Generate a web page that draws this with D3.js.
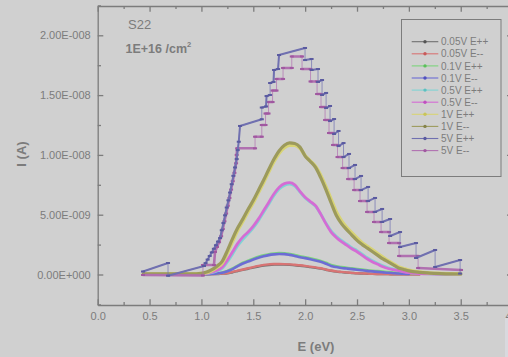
<!DOCTYPE html>
<html>
<head>
<meta charset="utf-8">
<script src="https://cdn.jsdelivr.net/npm/d3@7"></script>
<style>
  html, body { margin: 0; padding: 0; background: #d0d0d0; }
  svg { display: block; font-family: "Liberation Sans", Arial, sans-serif; }
</style>
</head>
<body>
<svg id="chart" width="508" height="357"></svg>
<script>
// ---- data (current in nA, energy in eV) ----
const seriesNames = ["0.05V E++", "0.05V E--", "0.1V E++", "0.1V E--", "0.5V E++",
                     "0.5V E--", "1V E++", "1V E--", "5V E++", "5V E--"];
const seriesColors = ["#707070", "#d87474", "#7cd47c", "#6c6cd4", "#80d4d4",
                      "#d46cd4", "#d8d474", "#9c9a5c", "#7070b0", "#b070b0"];
const markerColors = ["#555555", "#c85a5a", "#5ac05a", "#5050c0", "#5cc0c0",
                      "#c050c0", "#c8c45a", "#85834a", "#5a5aa0", "#a058a0"];

const xTickLabels = ["0.0", "0.5", "1.0", "1.5", "2.0", "2.5", "3.0", "3.5", "4.0"];
const yTickValues = [0, 5, 10, 15, 20];
const yTickLabels = ["0.00E+000", "5.00E-009", "1.00E-008", "1.50E-008", "2.00E-008"];

// shared energy grid for the smooth sweeps
const energyGrid = [0.44, 0.7, 0.9, 1.0,
  1.05, 1.10, 1.15, 1.20, 1.25, 1.30, 1.35, 1.40, 1.45, 1.50,
  1.55, 1.60, 1.65, 1.70, 1.75, 1.80, 1.85, 1.90, 1.95, 2.00,
  2.05, 2.10, 2.15, 2.20, 2.25, 2.30, 2.35, 2.40, 2.45, 2.50,
  2.55, 2.60, 2.65, 2.70, 2.75, 2.80, 2.85, 2.90, 2.95, 3.00,
  3.1, 3.2, 3.3, 3.4, 3.5];

const i005Epp = [0.01, 0.01, 0.01, 0.01,
  0.02, 0.03, 0.04, 0.07, 0.10, 0.19, 0.29, 0.39, 0.48, 0.58,
  0.67, 0.75, 0.80, 0.83, 0.84, 0.83, 0.81, 0.77, 0.73, 0.68,
  0.62, 0.56, 0.49, 0.40, 0.31, 0.24, 0.20, 0.16, 0.13, 0.10,
  0.08, 0.06, 0.05, 0.04, 0.03, 0.03, 0.02, 0.02, 0.02, 0.02,
  0.01, null, null, null, null];
const i005Emm = [0.01, 0.01, 0.01, 0.01,
  0.02, 0.03, 0.05, 0.08, 0.12, 0.22, 0.32, 0.42, 0.52, 0.62,
  0.72, 0.80, 0.85, 0.88, 0.88, 0.87, 0.85, 0.81, 0.77, 0.72,
  0.66, 0.60, 0.52, 0.42, 0.33, 0.26, 0.22, 0.18, 0.14, 0.11,
  0.09, 0.07, 0.05, 0.04, 0.03, 0.03, 0.02, 0.02, 0.02, 0.02,
  0.01, null, null, null, null];
const i01Epp = [0.03, 0.03, 0.03, 0.03,
  0.04, 0.06, 0.10, 0.17, 0.30, 0.50, 0.75, 0.98, 1.15, 1.32,
  1.48, 1.60, 1.70, 1.76, 1.79, 1.78, 1.72, 1.63, 1.53, 1.45,
  1.36, 1.26, 1.14, 0.98, 0.80, 0.69, 0.62, 0.56, 0.51, 0.46,
  0.41, 0.36, 0.32, 0.28, 0.24, 0.20, 0.17, 0.14, 0.12, 0.10,
  0.08, 0.07, 0.06, 0.05, 0.05];
const i01Emm = [0.02, 0.02, 0.02, 0.02,
  0.03, 0.05, 0.09, 0.15, 0.28, 0.45, 0.70, 0.92, 1.08, 1.25,
  1.40, 1.52, 1.62, 1.68, 1.71, 1.70, 1.64, 1.55, 1.45, 1.37,
  1.28, 1.18, 1.06, 0.90, 0.72, 0.62, 0.55, 0.50, 0.45, 0.40,
  0.35, 0.30, 0.26, 0.22, 0.18, 0.14, 0.11, 0.08, 0.06, 0.04,
  null, null, null, null, null];
const i05Epp = [0.03, 0.03, 0.03, 0.04,
  0.08, 0.16, 0.30, 0.50, 1.05, 1.70, 2.40, 2.95, 3.40, 3.90,
  4.50, 5.20, 5.90, 6.60, 7.15, 7.45, 7.55, 7.40, 6.90, 6.40,
  6.05, 5.70, 5.05, 4.30, 3.65, 3.20, 2.85, 2.55, 2.25, 2.00,
  1.70, 1.40, 1.15, 0.92, 0.72, 0.56, 0.45, 0.36, 0.26, 0.18,
  0.10, 0.06, 0.04, 0.03, 0.03];
const i05Emm = [0.03, 0.03, 0.03, 0.05,
  0.10, 0.20, 0.35, 0.60, 1.20, 1.90, 2.60, 3.15, 3.55, 4.05,
  4.65, 5.35, 6.05, 6.75, 7.30, 7.60, 7.68, 7.50, 6.95, 6.45,
  6.10, 5.75, 5.05, 4.25, 3.55, 3.10, 2.75, 2.45, 2.15, 1.90,
  1.60, 1.30, 1.05, 0.85, 0.65, 0.50, 0.40, 0.32, 0.22, 0.15,
  0.08, 0.05, 0.04, 0.03, 0.03];
const i1Epp = [0.05, 0.05, 0.05, 0.08,
  0.15, 0.32, 0.60, 0.95, 1.80, 2.75, 3.70, 4.45, 5.25, 6.00,
  6.85, 7.70, 8.60, 9.45, 10.15, 10.60, 10.80, 10.80, 10.55, 9.95,
  9.50, 9.05, 8.30, 7.35, 6.30, 5.25, 4.50, 3.95, 3.50, 3.05,
  2.65, 2.35, 2.05, 1.75, 1.45, 1.15, 0.90, 0.65, 0.50, 0.36,
  0.22, 0.14, 0.10, 0.07, 0.05];
const i1Emm = [0.05, 0.05, 0.05, 0.10,
  0.20, 0.40, 0.70, 1.10, 2.00, 3.00, 3.90, 4.65, 5.45, 6.20,
  7.05, 7.90, 8.80, 9.65, 10.35, 10.80, 11.00, 10.95, 10.65, 9.90,
  9.45, 8.95, 8.10, 7.10, 6.00, 4.95, 4.25, 3.75, 3.30, 2.85,
  2.50, 2.20, 1.90, 1.60, 1.30, 1.05, 0.80, 0.55, 0.42, 0.30,
  0.18, 0.12, 0.08, 0.05, 0.04];

// 5V sweeps: stepped readings, listed in acquisition order
const e5Epp = [0.437, 0.678, 0.678, 1.025,
  1.04, 1.06, 1.08, 1.10, 1.12, 1.14, 1.16, 1.18, 1.196, 1.212,
  1.228, 1.244, 1.26, 1.276, 1.292, 1.308, 1.324, 1.34, 1.35, 1.36,
  1.372, 1.582, 1.582, 1.623, 1.628, 1.662, 1.662, 1.695, 1.700, 1.739,
  1.748, 1.999, 1.999, 2.062, 2.062, 2.124, 2.124, 2.163, 2.163, 2.202,
  2.202, 2.240, 2.240, 2.279, 2.279, 2.322, 2.322, 2.370, 2.370, 2.423,
  2.423, 2.481, 2.481, 2.539, 2.539, 2.607, 2.607, 2.674, 2.674, 2.742,
  2.742, 2.819, 2.819, 2.915, 2.915, 3.069, 3.069, 3.253, 3.253, 3.494,
  3.494];
const i5Epp = [0.25, 0.96, -0.10, 0.71,
  0.95, 1.25, 1.55, 1.85, 2.15, 2.45, 2.75, 3.05, 3.70, 4.30,
  4.95, 5.60, 6.20, 6.85, 7.55, 8.25, 8.95, 9.65, 10.40, 11.10,
  12.42, 12.98, 13.96, 14.05, 14.92, 15.01, 16.01, 16.10, 17.10, 17.18,
  18.35, 18.94, 17.93, 18.02, 17.10, 17.18, 16.10, 16.26, 15.01, 15.18,
  13.92, 14.09, 12.83, 13.00, 11.75, 12.00, 10.74, 10.99, 9.82, 10.08,
  8.90, 9.16, 7.98, 8.24, 7.06, 7.32, 6.14, 6.40, 5.23, 5.48,
  4.39, 4.64, 3.22, 3.55, 2.30, 2.63, 1.38, 2.05, 0.63, 1.21,
  0.08];
const e5Emm = [0.437, 1.015, 1.015, 1.121, 1.131,
  1.15, 1.17, 1.19, 1.206, 1.222, 1.238, 1.254, 1.27, 1.286, 1.302,
  1.318, 1.334, 1.34, 1.345,
  1.517, 1.517, 1.582, 1.582, 1.618, 1.618, 1.647, 1.647, 1.686, 1.686,
  1.724, 1.724, 1.787, 1.787, 1.871, 1.871, 1.970, 1.970, 2.052, 2.052,
  2.115, 2.115, 2.153, 2.153, 2.192, 2.192, 2.230, 2.230, 2.269, 2.269,
  2.312, 2.312, 2.361, 2.361, 2.414, 2.414, 2.472, 2.472, 2.529, 2.529,
  2.597, 2.597, 2.664, 2.664, 2.732, 2.732, 2.809, 2.809, 2.906, 2.906,
  3.089, 3.089, 3.503];
const i5Emm = [-0.04, -0.08, 0.79, 0.79, 1.88,
  2.30, 2.70, 3.20, 3.80, 4.45, 5.10, 5.75, 6.40, 7.10, 7.80,
  8.50, 9.30, 10.00, 10.55,
  10.55, 11.52, 11.52, 12.50, 12.50, 13.46, 13.46, 14.42, 14.42, 15.38,
  15.38, 16.35, 16.35, 17.27, 17.27, 18.23, 18.23, 17.18, 17.18, 16.14,
  16.14, 15.09, 15.09, 14.00, 14.00, 12.92, 12.92, 11.83, 11.83, 10.83,
  10.83, 9.82, 9.82, 8.90, 8.90, 7.98, 7.98, 7.06, 7.06, 6.14,
  6.14, 5.23, 5.23, 4.39, 4.39, 3.55, 3.55, 2.63, 2.63, 1.55,
  1.55, 0.54, 0.38];

// ---- drawing ----
const svg = d3.select("#chart");
const axisColor = "#7c7c7c";
const textColor = "#7c7c7c";

const x = d3.scaleLinear().domain([0, 4]).range([97.7, 512.6]);
const y = d3.scaleLinear().domain([-2.55, 22.45]).range([305, 6]);

const zip = (es, vs) => es.map((e, i) => ({ e, v: vs[i] }));
const smoothSets = [i005Epp, i005Emm, i01Epp, i01Emm, i05Epp, i05Emm, i1Epp, i1Emm];
const smoothWidths = [2.4, 2.4, 2.6, 2.6, 2.8, 2.8, 3.4, 3.2];

// edge of the neighbouring panel at the lower right
svg.append("rect").attr("x", 505).attr("y", 318).attr("width", 3).attr("height", 39)
  .attr("fill", "#d9d9de");

const plot = svg.append("g");
const line = d3.line()
  .defined(d => d.v !== null)
  .x(d => x(d.e)).y(d => y(d.v))
  .curve(d3.curveMonotoneX);

smoothSets.forEach((vals, k) => {
  plot.append("path")
    .datum(zip(energyGrid, vals))
    .attr("fill", "none")
    .attr("stroke", seriesColors[k])
    .attr("stroke-width", smoothWidths[k])
    .attr("stroke-linejoin", "round")
    .attr("stroke-linecap", "round")
    .attr("d", line);
});

// stepped 5V sweeps: thin risers, thicker plateaus and ramps, small markers
const straight = d3.line().x(d => x(d.e)).y(d => y(d.v));
function drawSteps(pts, k, plateauWidth) {
  const g = plot.append("g");
  g.append("path").datum(pts)
    .attr("fill", "none").attr("stroke", seriesColors[k])
    .attr("stroke-opacity", 0.7).attr("stroke-width", 1).attr("d", straight);
  for (let i = 1; i < pts.length; i++) {
    if (pts[i].e === pts[i - 1].e) continue;
    g.append("line")
      .attr("x1", x(pts[i - 1].e)).attr("y1", y(pts[i - 1].v))
      .attr("x2", x(pts[i].e)).attr("y2", y(pts[i].v))
      .attr("stroke", seriesColors[k]).attr("stroke-width", plateauWidth)
      .attr("stroke-linecap", "round");
  }
  g.selectAll("rect.mk").data(pts).join("rect")
    .attr("x", d => x(d.e) - 2).attr("y", d => y(d.v) - 1)
    .attr("width", 4).attr("height", 2)
    .attr("fill", markerColors[k]);
}
drawSteps(zip(e5Emm, i5Emm), 9, 2.6);
drawSteps(zip(e5Epp, i5Epp), 8, 2.0);

// ---- axes (frame with inward ticks) ----
const yMinor = [-2.5, 2.5, 7.5, 12.5, 17.5, 22.5];
const xMajor = d3.range(0, 4.01, 0.5);
const xMinor = d3.range(0.25, 4, 0.5);

function styleAxis(g) {
  g.selectAll("path, line").attr("stroke", axisColor).attr("stroke-width", 1.3);
  g.selectAll("text").attr("fill", textColor).style("font-size", "11px")
    .style("font-family", "'Liberation Sans', Arial, sans-serif");
}

svg.append("g").attr("transform", "translate(97.7,0)")
  .call(d3.axisLeft(y).tickValues(yTickValues).tickSizeInner(-5.6).tickSizeOuter(0)
    .tickPadding(7).tickFormat((d, i) => yTickLabels[i]))
  .call(styleAxis);
svg.append("g").attr("transform", "translate(97.7,0)")
  .call(d3.axisLeft(y).tickValues(yMinor).tickSizeInner(-3.3).tickSizeOuter(0).tickFormat(""))
  .call(styleAxis).select(".domain").remove();

svg.append("g").attr("transform", "translate(512.6,0)")
  .call(d3.axisRight(y).tickValues(yTickValues).tickSizeInner(-5.6).tickSizeOuter(0).tickFormat(""))
  .call(styleAxis);
svg.append("g").attr("transform", "translate(512.6,0)")
  .call(d3.axisRight(y).tickValues(yMinor).tickSizeInner(-3.3).tickSizeOuter(0).tickFormat(""))
  .call(styleAxis).select(".domain").remove();

svg.append("g").attr("transform", "translate(0,305)")
  .call(d3.axisBottom(x).tickValues(xMajor).tickSizeInner(-5.7).tickSizeOuter(0)
    .tickPadding(7.5).tickFormat((d, i) => xTickLabels[i]))
  .call(styleAxis);
svg.append("g").attr("transform", "translate(0,305)")
  .call(d3.axisBottom(x).tickValues(xMinor).tickSizeInner(-3).tickSizeOuter(0).tickFormat(""))
  .call(styleAxis).select(".domain").remove();

svg.append("g").attr("transform", "translate(0,6)")
  .call(d3.axisTop(x).tickValues(xMajor).tickSizeInner(-5.7).tickSizeOuter(0).tickFormat(""))
  .call(styleAxis);
svg.append("g").attr("transform", "translate(0,6)")
  .call(d3.axisTop(x).tickValues(xMinor).tickSizeInner(-3).tickSizeOuter(0).tickFormat(""))
  .call(styleAxis).select(".domain").remove();

// ---- titles and annotations ----
svg.append("text").attr("x", 316).attr("y", 351).attr("text-anchor", "middle")
  .attr("fill", textColor).style("font-size", "13px").style("font-weight", "bold")
  .text("E (eV)");
svg.append("text").attr("transform", "translate(26,154) rotate(-90)")
  .attr("text-anchor", "middle").attr("fill", textColor)
  .style("font-size", "13px").style("font-weight", "bold").text("I (A)");

svg.append("text").attr("x", 128).attr("y", 29).attr("fill", textColor)
  .style("font-size", "13px").text("S22");
const dose = svg.append("text").attr("x", 125.5).attr("y", 53).attr("fill", textColor)
  .style("font-size", "12.5px").style("font-weight", "bold");
dose.append("tspan").text("1E+16 /cm");
dose.append("tspan").attr("dy", -6).style("font-size", "7.5px").text("2");

// ---- legend ----
const legend = svg.append("g");
legend.append("rect").attr("x", 401.5).attr("y", 19.5).attr("width", 99.5).attr("height", 157)
  .attr("fill", "none").attr("stroke", axisColor).attr("stroke-width", 1);
seriesNames.forEach((name, k) => {
  const cy = 41.7 + k * 12.1;
  legend.append("line").attr("x1", 411.7).attr("x2", 438.3).attr("y1", cy).attr("y2", cy)
    .attr("stroke", seriesColors[k]).attr("stroke-width", 1.1);
  legend.append("circle").attr("cx", 425).attr("cy", cy).attr("r", 1.7)
    .attr("fill", markerColors[k]);
  legend.append("text").attr("x", 441).attr("y", cy + 3.6).attr("fill", textColor)
    .style("font-size", "10px").text(name);
});
</script>
</body>
</html>
